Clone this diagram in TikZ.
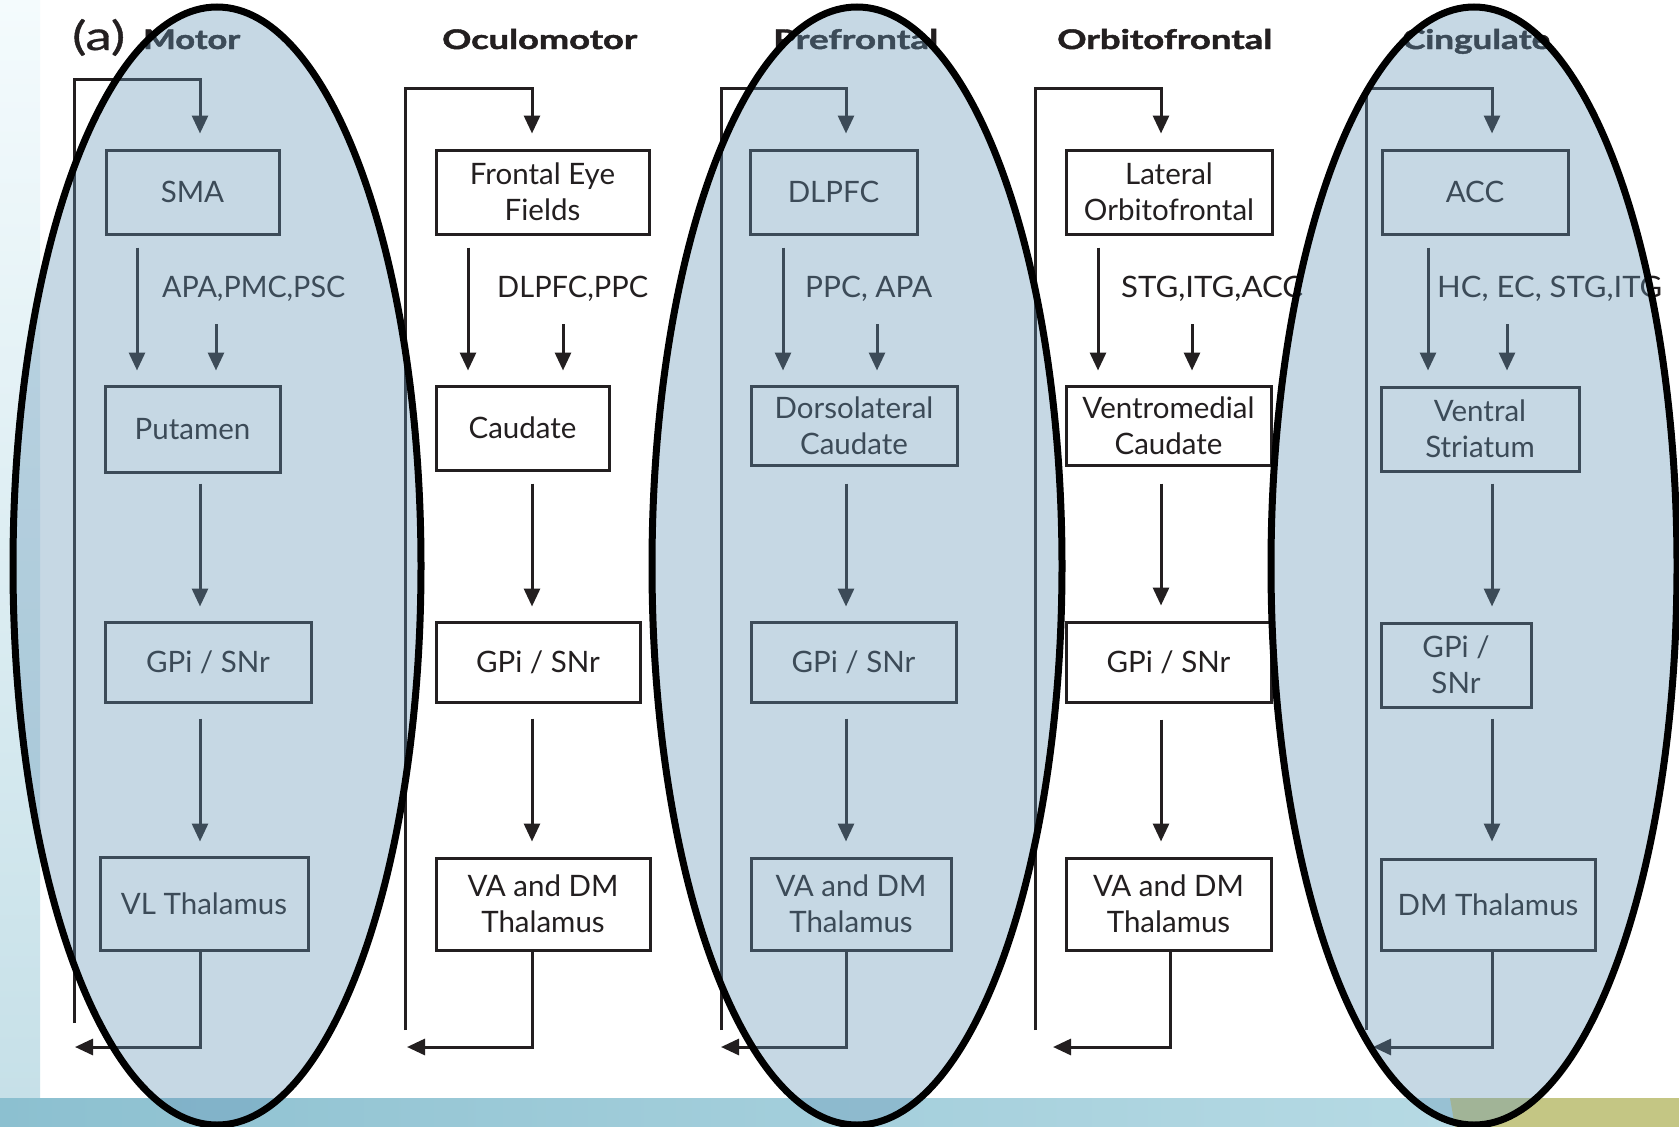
\documentclass[tikz,border=0pt]{standalone}
\usepackage{fontspec}
\setmainfont{Lato}
\usetikzlibrary{arrows.meta}
\definecolor{ink}{RGB}{35,31,32}
\definecolor{ovl}{RGB}{103,151,184}
\definecolor{bandA}{RGB}{140,192,208}
\definecolor{bandB}{RGB}{182,218,228}
\definecolor{yg}{RGB}{196,198,132}
\definecolor{stripA}{RGB}{244,251,253}
\definecolor{stripB}{RGB}{198,224,232}
\newcommand\fitw[2]{\resizebox{#1pt}{\height}{#2}}
\newcommand\mkbox[6]{\node[bx, minimum width={#3-#2}, minimum height={#5-#4}] (#1) at ({(#2+#3)/2},{(#4+#5)/2}) {#6};}
\begin{document}
\begin{tikzpicture}[x=1pt,y=-1pt,
  bx/.style={draw=ink, line width=3pt, inner sep=0pt, align=center, font=\fontsize{29.5}{36}\selectfont, text=ink},
  ln/.style={draw=ink, line width=3pt},
  arr/.style={ln, -{Triangle[length=18pt,width=16pt]}},
  lbl/.style={anchor=base west, font=\fontsize{29.5}{36}\selectfont, text=ink, inner sep=0pt},
  ttl/.style={anchor=base west, font=\fontsize{27}{30}\selectfont\bfseries\addfontfeature{FakeBold=1.5}, text=ink, inner sep=0pt},
  ov/.style={fill=ovl, fill opacity=0.37, draw=black, line width=7pt}]
\useasboundingbox (0,0) rectangle (1679,1127);
% background
\fill[white] (0,0) rectangle (1679,1127);
\shade[top color=stripA, bottom color=stripB] (0,0) rectangle (40,1098);
\shade[left color=bandA, right color=bandB] (0,1098) rectangle (1455,1127);
\fill[yg] (1450,1098) -- (1679,1098) -- (1679,1127) -- (1455,1127) -- cycle;
% titles
\node[anchor=base west, inner sep=0pt, font=\fontsize{40}{44}\selectfont\addfontfeature{FakeBold=0.8}, text=ink] (lab) at (72,50) {\fitw{53}{(a)}};
\node[ttl] (t1) at (143,49) {\fitw{97}{Motor}};
\node[ttl] (t2) at (442,49) {\fitw{195}{Oculomotor}};
\node[ttl] (t3) at (773,49) {\fitw{165}{Prefrontal}};
\node[ttl] (t4) at (1057,49) {\fitw{215}{Orbitofrontal}};
\node[ttl] (t5) at (1402,49) {\fitw{148}{Cingulate}};
% boxes
\mkbox{sma}{106}{279}{150}{234}{SMA}
\mkbox{put}{105}{280}{386}{472}{Putamen}
\mkbox{gpa}{105}{311}{622}{702}{GPi / SNr}
\mkbox{tha}{100}{308}{857}{950}{VL Thalamus}
\mkbox{fef}{436}{649}{150}{234}{Frontal Eye\\Fields}
\mkbox{cau}{436}{609}{386}{470}{Caudate}
\mkbox{gpb}{436}{640}{622}{702}{GPi / SNr}
\mkbox{thb}{436}{650}{858}{950}{VA and DM\\Thalamus}
\mkbox{dlp}{750}{917}{150}{234}{DLPFC}
\mkbox{dlc}{751}{957}{386}{465}{Dorsolateral\\Caudate}
\mkbox{gpc}{751}{956}{622}{702}{GPi / SNr}
\mkbox{thc}{751}{951}{858}{950}{VA and DM\\Thalamus}
\mkbox{lof}{1066}{1272}{150}{234}{Lateral\\Orbitofrontal}
\mkbox{vmc}{1066}{1271}{386}{465}{Ventromedial\\Caudate}
\mkbox{gpd}{1066}{1271}{622}{702}{GPi / SNr}
\mkbox{thd}{1066}{1271}{858}{950}{VA and DM\\Thalamus}
\mkbox{acc}{1382}{1568}{150}{234}{ACC}
\mkbox{vst}{1381}{1579}{387}{471}{Ventral\\Striatum}
\mkbox{gpe}{1381}{1531}{623}{707}{GPi /\\SNr}
\mkbox{the}{1381}{1595}{859}{950}{DM Thalamus}
% labels
\node[lbl] (l1) at (162,297) {\fitw{183}{APA,PMC,PSC}};
\node[lbl] (l2) at (497,297) {\fitw{151}{DLPFC,PPC}};
\node[lbl] (l3) at (805,297) {\fitw{127}{PPC, APA}};
\node[lbl] (l4) at (1121,297) {\fitw{182}{STG,ITG,ACC}};
\node[lbl] (l5) at (1437,297) {\fitw{225}{HC, EC, STG,ITG}};
% column 1
\coordinate (La) at (74,1023); \coordinate (Ta) at (200,79); \coordinate (Ra) at (75,1047);
\coordinate (Pa) at (137,300); \coordinate (Qa) at (216,324);
\draw[arr, shorten >=15pt] (La) |- (Ta) -- (Ta |- sma.north);
\draw[arr, shorten <=12pt, shorten >=14pt] (Pa |- sma.south) -- (Pa |- put.north);
\draw[arr, shorten >=14pt] (Qa) -- (Qa |- put.north);
\draw[arr, shorten <=10pt, shorten >=14pt] (Ta |- put.south) -- (Ta |- gpa.north);
\draw[arr, shorten <=15pt, shorten >=14pt] (Ta |- gpa.south) -- (Ta |- tha.north);
\draw[arr] (Ta |- tha.south) |- (Ra);
% column 2
\coordinate (Lb) at (405,1030); \coordinate (Tb) at (532,88); \coordinate (Rb) at (407,1047);
\coordinate (Pb) at (468,300); \coordinate (Qb) at (563,324);
\draw[arr, shorten >=15pt] (Lb) |- (Tb) -- (Tb |- fef.north);
\draw[arr, shorten <=12pt, shorten >=14pt] (Pb |- fef.south) -- (Pb |- cau.north);
\draw[arr, shorten >=14pt] (Qb) -- (Qb |- cau.north);
\draw[arr, shorten <=12pt, shorten >=14pt] (Tb |- cau.south) -- (Tb |- gpb.north);
\draw[arr, shorten <=15pt, shorten >=15pt] (Tb |- gpb.south) -- (Tb |- thb.north);
\draw[arr] (Tb |- thb.south) |- (Rb);
% column 3
\coordinate (Lc) at (721,1030); \coordinate (Tc) at (846,88); \coordinate (Rc) at (721,1047);
\coordinate (Pc) at (783,300); \coordinate (Qc) at (877,324);
\draw[arr, shorten >=15pt] (Lc) |- (Tc) -- (Tc |- dlp.north);
\draw[arr, shorten <=12pt, shorten >=14pt] (Pc |- dlp.south) -- (Pc |- dlc.north);
\draw[arr, shorten >=14pt] (Qc) -- (Qc |- dlc.north);
\draw[arr, shorten <=17pt, shorten >=14pt] (Tc |- dlc.south) -- (Tc |- gpc.north);
\draw[arr, shorten <=15pt, shorten >=15pt] (Tc |- gpc.south) -- (Tc |- thc.north);
\draw[arr] (Tc |- thc.south) |- (Rc);
% column 4
\coordinate (Ld) at (1035,1030); \coordinate (Td) at (1161,88); \coordinate (Rd) at (1053,1047);
\coordinate (Pd) at (1098,300); \coordinate (Qd) at (1192,324); \coordinate (Bd) at (1170,960);
\draw[arr, shorten >=15pt] (Ld) |- (Td) -- (Td |- lof.north);
\draw[arr, shorten <=12pt, shorten >=14pt] (Pd |- lof.south) -- (Pd |- vmc.north);
\draw[arr, shorten >=14pt] (Qd) -- (Qd |- vmc.north);
\draw[arr, shorten <=17pt, shorten >=15pt] (Td |- vmc.south) -- (Td |- gpd.north);
\draw[arr, shorten <=16pt, shorten >=15pt] (Td |- gpd.south) -- (Td |- thd.north);
\draw[arr] (Bd |- thd.south) |- (Rd);
% column 5
\coordinate (Le) at (1366,1030); \coordinate (Te) at (1492,88); \coordinate (Re) at (1373,1047);
\coordinate (Pe) at (1428,300); \coordinate (Qe) at (1507,324);
\draw[arr, shorten >=15pt] (Le) |- (Te) -- (Te |- acc.north);
\draw[arr, shorten <=12pt, shorten >=15pt] (Pe |- acc.south) -- (Pe |- vst.north);
\draw[arr, shorten >=15pt] (Qe) -- (Qe |- vst.north);
\draw[arr, shorten <=11pt, shorten >=15pt] (Te |- vst.south) -- (Te |- gpe.north);
\draw[arr, shorten <=10pt, shorten >=16pt] (Te |- gpe.south) -- (Te |- the.north);
\draw[arr] (Te |- the.south) |- (Re);
% highlight ellipses
\draw[ov] (217,566) ellipse [x radius=204pt, y radius=559pt];
\draw[ov] (857,566) ellipse [x radius=205pt, y radius=559pt];
\draw[ov] (1474,566) ellipse [x radius=203pt, y radius=559pt];
\end{tikzpicture}
\end{document}
